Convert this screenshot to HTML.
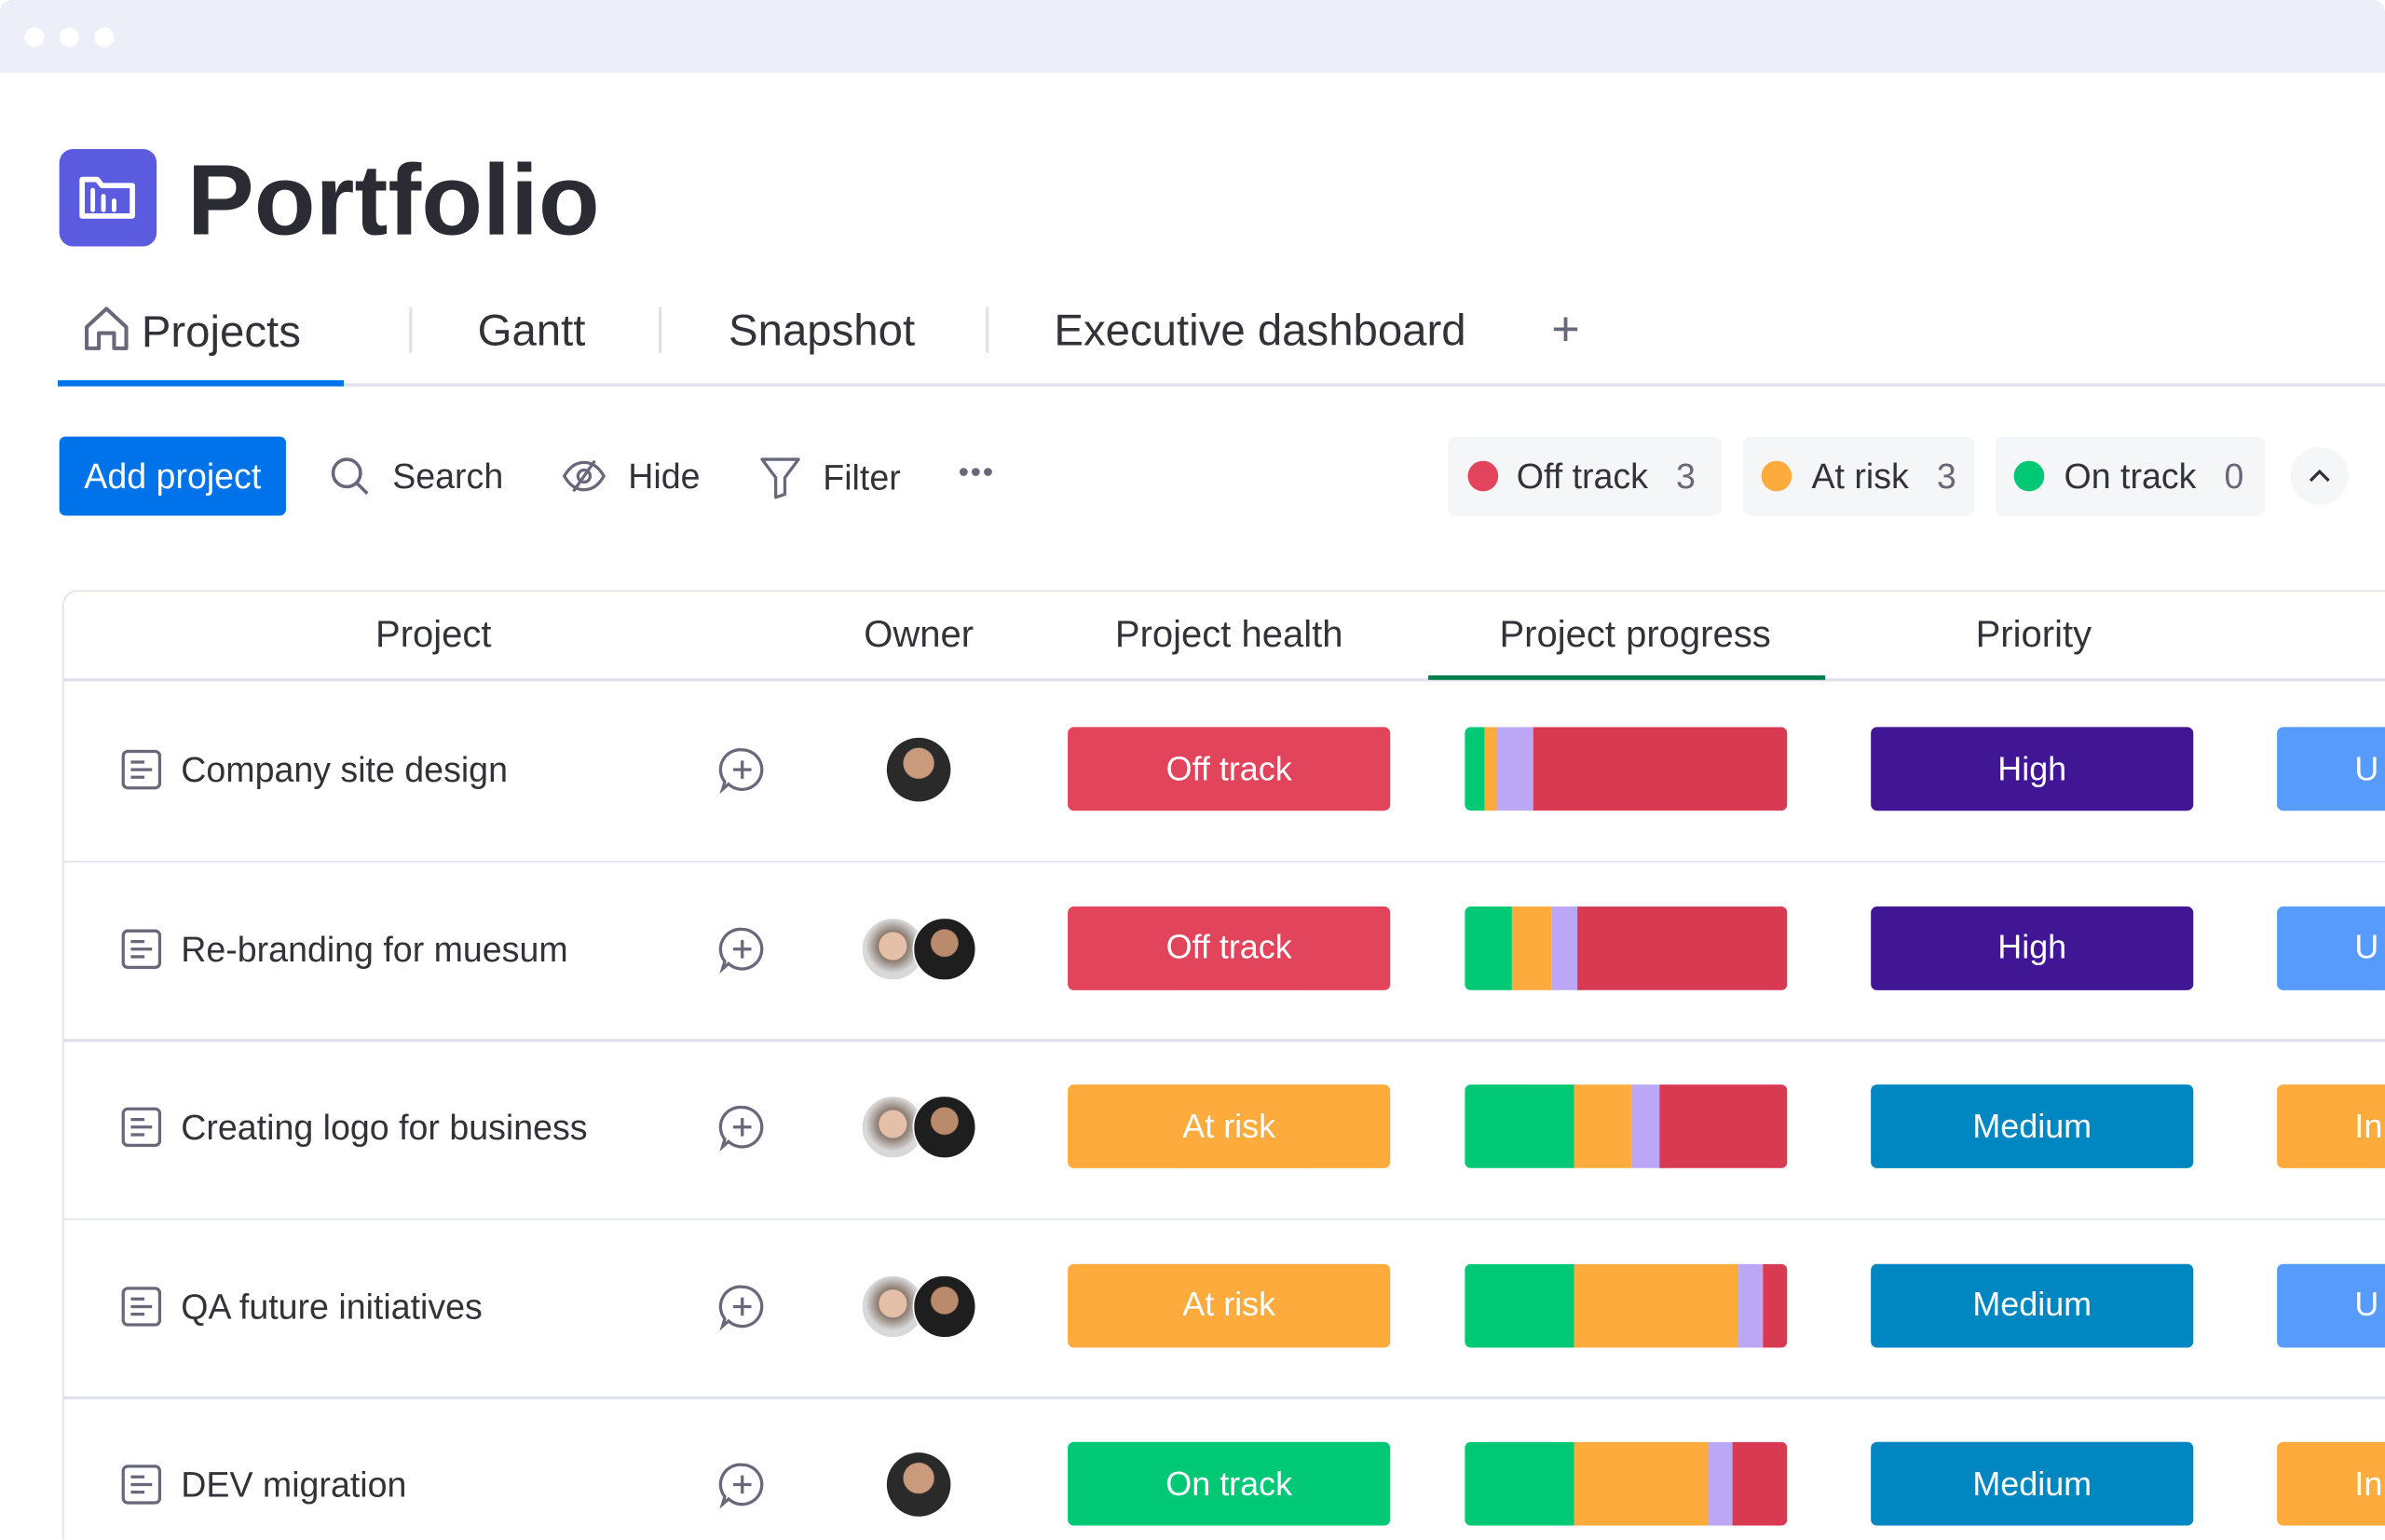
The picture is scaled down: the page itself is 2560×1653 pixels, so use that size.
<!DOCTYPE html>
<html><head><meta charset="utf-8">
<style>
html,body{margin:0;padding:0;background:#fff;overflow:hidden}
body{width:2560px;height:1653px;font-family:"Liberation Sans",sans-serif;color:#323338;position:relative}
#w{position:absolute;left:0;top:0;width:1568px;height:1012px;transform:scale(1.63265);transform-origin:0 0;overflow:hidden}
.a{position:absolute}
.t{position:absolute;white-space:nowrap}
</style></head><body>
<div id="w">
<div class="a" style="left:0;top:0;width:1568px;height:48px;background:#eceff8;border-radius:8px 8px 0 0">
 <div class="a" style="left:16px;top:18px;width:13px;height:13px;border-radius:50%;background:#fff"></div>
 <div class="a" style="left:39px;top:18px;width:13px;height:13px;border-radius:50%;background:#fff"></div>
 <div class="a" style="left:62px;top:18px;width:13px;height:13px;border-radius:50%;background:#fff"></div>
</div>
<div class="a" style="left:39px;top:98px;width:64px;height:64px;border-radius:9px;background:#5b5be0">
 <svg width="64" height="64" viewBox="0 0 64 64"><path d="M15 20h10l3 4h20v20H15z" fill="none" stroke="#fff" stroke-width="3.5" stroke-linejoin="round"/><path d="M22 27v13M29 31v9M36 34v6" stroke="#fff" stroke-width="3" stroke-linecap="round"/></svg>
</div>
<div class="t" style="left:123px;top:93px;font-size:66px;font-weight:bold;color:#2b2c33">Portfolio</div>

<div class="t" style="left:53px;top:199px;font-size:29px;color:#323338">
 <svg width="34" height="34" viewBox="0 0 34 34" style="vertical-align:-5px;margin-right:6px"><path d="M4 16L17 4l13 12v14h-8v-10h-10v10H4z" fill="none" stroke="#676879" stroke-width="2.5" stroke-linejoin="round"/></svg>Projects</div>
<div class="a" style="left:269px;top:202px;width:2px;height:30px;background:#dfe1ea"></div>
<div class="t" style="left:314px;top:202px;font-size:29px">Gantt</div>
<div class="a" style="left:433px;top:202px;width:2px;height:30px;background:#dfe1ea"></div>
<div class="t" style="left:479px;top:202px;font-size:29px">Snapshot</div>
<div class="a" style="left:648px;top:202px;width:2px;height:30px;background:#dfe1ea"></div>
<div class="t" style="left:693px;top:202px;font-size:29px">Executive dashboard</div>
<div class="t" style="left:1020px;top:198px;font-size:32px;color:#676879">+</div>
<div class="a" style="left:38px;top:252px;width:1530px;height:2px;background:#dfe1ea"></div>
<div class="a" style="left:38px;top:250px;width:188px;height:4px;background:#0073ea"></div>

<div class="a" style="left:39px;top:287px;width:149px;height:52px;border-radius:4px;background:#0073ea;color:#fff;font-size:23px;display:flex;align-items:center;justify-content:center">Add project</div>
<div class="t" style="left:216px;top:299px;font-size:23px"><svg width="28" height="28" viewBox="0 0 28 28" style="vertical-align:-6px;margin-right:14px"><circle cx="12" cy="12" r="9" fill="none" stroke="#676879" stroke-width="2.2"/><path d="M18.5 18.5l7 7" stroke="#676879" stroke-width="2.2"/></svg>Search</div>
<div class="t" style="left:369px;top:299px;font-size:23px"><svg width="30" height="28" viewBox="0 0 30 28" style="vertical-align:-6px;margin-right:14px"><path d="M2 14c4-7 9-9 13-9s9 2 13 9c-4 7-9 9-13 9s-9-2-13-9z" fill="none" stroke="#676879" stroke-width="2"/><circle cx="15" cy="14" r="4" fill="none" stroke="#676879" stroke-width="2"/><path d="M22 4L8 24" stroke="#676879" stroke-width="2"/></svg>Hide</div>
<div class="t" style="left:499px;top:299px;font-size:23px"><svg width="28" height="30" viewBox="0 0 28 30" style="vertical-align:-7px;margin-right:14px"><path d="M2 3h24L17 15v11l-6 2V15z" fill="none" stroke="#676879" stroke-width="2" stroke-linejoin="round"/></svg>Filter</div>
<div class="t" style="left:630px;top:300px;font-size:20px;color:#676879;letter-spacing:1px">•••</div>

<div class="a" style="left:952px;top:287px;width:180px;height:52px;border-radius:5px;background:#f5f6f8"></div>
<div class="a" style="left:965px;top:303px;width:20px;height:20px;border-radius:50%;background:#e2445c"></div>
<div class="t" style="left:997px;top:300px;font-size:23px">Off track <span style="margin-left:12px;color:#676879">3</span></div>
<div class="a" style="left:1146px;top:287px;width:152px;height:52px;border-radius:5px;background:#f5f6f8"></div>
<div class="a" style="left:1158px;top:303px;width:20px;height:20px;border-radius:50%;background:#fdab3d"></div>
<div class="t" style="left:1191px;top:300px;font-size:23px">At risk <span style="margin-left:12px;color:#676879">3</span></div>
<div class="a" style="left:1312px;top:287px;width:177px;height:52px;border-radius:5px;background:#f5f6f8"></div>
<div class="a" style="left:1324px;top:303px;width:20px;height:20px;border-radius:50%;background:#00c875"></div>
<div class="t" style="left:1357px;top:300px;font-size:23px">On track <span style="margin-left:12px;color:#676879">0</span></div>
<div class="a" style="left:1506px;top:294px;width:38px;height:38px;border-radius:50%;background:#f5f6f8"><svg width="38" height="38" viewBox="0 0 38 38"><path d="M13 22l6-6 6 6" fill="none" stroke="#323338" stroke-width="2"/></svg></div>

<div class="a" style="left:41px;top:388px;width:1527px;height:624px;border:1.5px solid #dfe1ea;border-right:none;border-bottom:none;border-radius:10px 0 0 0;box-sizing:border-box"></div>
<div class="t" style="left:285px;top:404px;font-size:24.5px;transform:translateX(-50%)">Project</div>
<div class="t" style="left:604px;top:404px;font-size:24.5px;transform:translateX(-50%)">Owner</div>
<div class="t" style="left:808px;top:404px;font-size:24.5px;transform:translateX(-50%)">Project health</div>
<div class="t" style="left:1075px;top:404px;font-size:24.5px;transform:translateX(-50%)">Project progress</div>
<div class="t" style="left:1337px;top:404px;font-size:24.5px;transform:translateX(-50%)">Priority</div>
<div class="a" style="left:42px;top:446px;width:1526px;height:1.5px;background:#dfe1ea"></div>
<div class="a" style="left:939px;top:444px;width:261px;height:3px;background:#037f4c"></div>
<div id="rows"></div>
</div>
<script>
const projects=["Company site design","Re-branding for muesum","Creating logo for business","QA future initiatives","DEV migration"];
const health=["Off track","Off track","At risk","At risk","On track"];
const priority=["High","High","Medium","Medium","Medium"];
const lastCol=["U","U","In","U","In"];
const owners=[1,2,2,2,1];
const progDone=[6,14.7,33.9,33.9,33.9];
const progWorking=[4,12.2,18.2,50.8,41.6];
const progReview=[11.4,7.9,8.1,7.7,7.7];
const progStuck=[78.6,65.2,39.8,7.6,16.8];
const healthColor={"Off track":"#e2445c","At risk":"#fdab3d","On track":"#00c875"};
const prioColor={"High":"#401694","Medium":"#0086c0"};
const lastColor={"U":"#579bfc","In":"#fdab3d"};
const segColors=["#00c875","#fdab3d","#bba7f6","#d83a52"];
const root=document.getElementById('rows');
const rowTop=448,rowH=117.5,barX=963,barW=212;
function mk(css,html){const d=document.createElement('div');d.style.cssText=css;if(html)d.innerHTML=html;root.appendChild(d);return d;}
projects.forEach((p,i)=>{
 const cy=rowTop+rowH*i+58;
 if(i>0){const s=mk(`position:absolute;left:42px;top:${rowTop+rowH*i}px;width:1526px;height:1.5px;background:#dfe1ea`);
 
 }
 const ic=mk(`position:absolute;left:79px;top:${cy-14}px;width:28px;height:28px`,'<svg width="28" height="28" viewBox="0 0 28 28"><rect x="2" y="2" width="24" height="24" rx="3" fill="none" stroke="#676879" stroke-width="2"/><path d="M7 9h9M7 14h14M7 19h9" stroke="#676879" stroke-width="2"/></svg>');
 
 
 const n=mk(`position:absolute;left:119px;top:${cy-13}px;font-size:23px;white-space:nowrap;color:#323338`);n.textContent=p;
 
 
 const u=mk(`position:absolute;left:472px;top:${cy-16}px;width:32px;height:32px`,'<svg width="32" height="32" viewBox="0 0 32 32"><path d="M16 3a13 13 0 1 1-9 22.5L3 29l1.5-5A13 13 0 0 1 16 3z" fill="none" stroke="#676879" stroke-width="2"/><path d="M16 10v12M10 16h12" stroke="#676879" stroke-width="2"/></svg>');
 
 
 if(owners[i]===1){const a=mk(`position:absolute;left:583px;top:${cy-21}px;width:42px;height:42px;border-radius:50%;background:radial-gradient(circle at 50% 40%,#c99a7c 0 30%,#2a2a2a 32%)`);
 
 }
 else{const a=mk(`position:absolute;left:566px;top:${cy-21}px;width:40px;height:40px;border-radius:50%;border:1px solid #fff;background:radial-gradient(circle at 50% 45%,#e4c0a8 0 30%,#8a7a70 32%,#d8d8d8 60%)`);
 
 
 const b=mk(`position:absolute;left:600px;top:${cy-21}px;width:40px;height:40px;border-radius:50%;border:1px solid #fff;background:radial-gradient(circle at 50% 40%,#b98a6c 0 28%,#1e1e1e 30%)`);
 
 }
 const h=mk(`position:absolute;left:702px;top:${cy-28}px;width:212px;height:55px;border-radius:4px;background:${healthColor[health[i]]};color:#fff;font-size:22px;display:flex;align-items:center;justify-content:center`);h.textContent=health[i];
 
 
 const bar=mk(`position:absolute;left:${barX}px;top:${cy-28}px;width:${barW}px;height:55px;border-radius:4px;overflow:hidden;display:flex`);
 
 
 const vals=[progDone[i],progWorking[i],progReview[i],progStuck[i]];
 const tot=vals.reduce((s,v)=>s+v,0);
 vals.forEach((v,k)=>{const sg=document.createElement('div');sg.style.cssText=`height:100%;width:${v/tot*barW}px;background:${segColors[k]}`;
 
 
 bar.appendChild(sg);});
 const pr=mk(`position:absolute;left:1230px;top:${cy-28}px;width:212px;height:55px;border-radius:4px;background:${prioColor[priority[i]]};color:#fff;font-size:22px;display:flex;align-items:center;justify-content:center`);pr.textContent=priority[i];
 
 
 const lc=mk(`position:absolute;left:1497px;top:${cy-28}px;width:71px;height:55px;border-radius:4px 0 0 4px;background:${lastColor[lastCol[i]]};color:#fff;font-size:22px;display:flex;align-items:center;padding-left:51px;box-sizing:border-box;overflow:hidden`);lc.textContent=lastCol[i];
 
 
});
</script>
</body></html>
